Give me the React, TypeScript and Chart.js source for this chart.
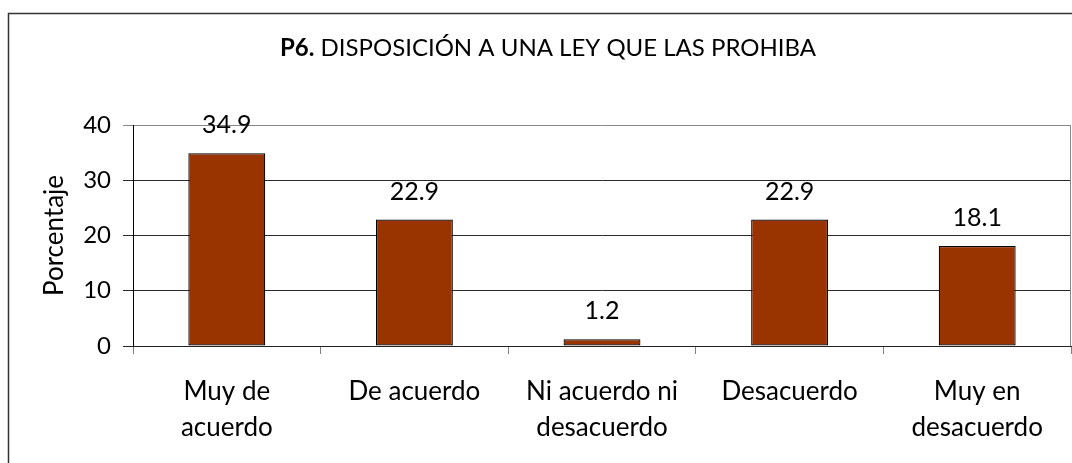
import React, { useEffect, useRef } from "react";
import { Chart, registerables } from "chart.js";

Chart.register(...registerables);

const categories: string[][] = [
  ["Muy de", "acuerdo"],
  ["De acuerdo"],
  ["Ni acuerdo ni", "desacuerdo"],
  ["Desacuerdo"],
  ["Muy en", "desacuerdo"],
];
const values: number[] = [34.9, 22.9, 1.2, 22.9, 18.1];
const yMin = 0;
const yMax = 40;
const yStep = 10;
const titleBold = "P6.";
const titleRest = " DISPOSICIÓN A UNA LEY QUE LAS PROHIBA";
const yTitle = "Porcentaje";

const FONT = "Lato, 'Open Sans', 'DejaVu Sans', sans-serif";

const decorPlugin = {
  id: "decor",
  beforeDraw(chart: any) {
    const { ctx, width, height } = chart;
    ctx.save();
    ctx.fillStyle = "#ffffff";
    ctx.fillRect(0, 0, width, height);
    ctx.strokeStyle = "#333333";
    ctx.lineWidth = 1.5;
    ctx.beginPath();
    ctx.moveTo(8.5, height + 5);
    ctx.lineTo(8.5, 13.5);
    ctx.lineTo(width + 5, 13.5);
    ctx.stroke();
    ctx.restore();
  },
  afterDatasetsDraw(chart: any) {
    const { ctx, chartArea } = chart;
    ctx.save();
    // plot area right border
    ctx.strokeStyle = "#888888";
    ctx.lineWidth = 1;
    ctx.beginPath();
    ctx.moveTo(chartArea.right - 0.5, chartArea.top);
    ctx.lineTo(chartArea.right - 0.5, chartArea.bottom);
    ctx.stroke();
    // data labels
    const meta = chart.getDatasetMeta(0);
    ctx.fillStyle = "#000000";
    ctx.font = `25px ${FONT}`;
    ctx.textAlign = "center";
    ctx.textBaseline = "middle";
    meta.data.forEach((bar: any, i: number) => {
      ctx.fillText(values[i].toFixed(1), bar.x, bar.y - 28);
    });
    // title
    ctx.textBaseline = "middle";
    ctx.textAlign = "left";
    const boldFont = `bold 24px ${FONT}`;
    const normFont = `24px ${FONT}`;
    ctx.font = boldFont;
    const wb = ctx.measureText(titleBold).width;
    ctx.font = normFont;
    const wn = ctx.measureText(titleRest).width;
    const cx = 548;
    const x0 = cx - (wb + wn) / 2;
    ctx.font = boldFont;
    ctx.fillText(titleBold, x0, 48);
    ctx.font = normFont;
    ctx.fillText(titleRest, x0 + wb, 48);
    ctx.restore();
  },
};

export default function App() {
  const canvasRef = useRef<HTMLCanvasElement | null>(null);

  useEffect(() => {
    if (!canvasRef.current) return;
    const chart = new Chart(canvasRef.current, {
      type: "bar",
      data: {
        labels: categories,
        datasets: [
          {
            data: values,
            backgroundColor: "#993300",
            borderColor: "#000000",
            borderWidth: 1.2,
            borderSkipped: false,
            barPercentage: 0.41,
            categoryPercentage: 1,
          },
        ],
      },
      options: {
        animation: false,
        responsive: true,
        maintainAspectRatio: false,
        layout: { padding: { top: 125, right: 1, left: 0, bottom: 0 } },
        plugins: {
          legend: { display: false },
          title: { display: false },
          tooltip: { enabled: false },
        },
        scales: {
          x: {
            offset: true,
            grid: {
              offset: true,
              drawOnChartArea: false,
              drawTicks: true,
              tickLength: 8,
              color: "#808080",
            },
            border: { display: true, color: "#222222", width: 1 },
            ticks: {
              color: "#000000",
              font: { family: FONT, size: 26, lineHeight: 36 / 26 },
              padding: 20,
              maxRotation: 0,
              autoSkip: false,
            },
            afterFit(scale: any) {
              scale.height = 117;
            },
          },
          y: {
            min: yMin,
            max: yMax,
            ticks: {
              stepSize: yStep,
              color: "#000000",
              font: { family: FONT, size: 24 },
              padding: 12,
            },
            grid: {
              drawTicks: true,
              tickLength: 10,
              color: (c: any) => (c.tick && c.tick.value === yMax ? "#888888" : "#2a2a2a"),
            },
            border: { display: true, color: "#000000", width: 1 },
            title: {
              display: true,
              text: yTitle,
              color: "#000000",
              font: { family: FONT, size: 26 },
              padding: { top: 39, bottom: 0 },
            },
            afterFit(scale: any) {
              scale.width = 133;
            },
          },
        },
      },
      plugins: [decorPlugin],
    });
    return () => chart.destroy();
  }, []);

  return (
    <div style={{ position: "fixed", left: 0, top: 0, width: 1072, height: 463, background: "#fff" }}>
      <canvas ref={canvasRef} />
    </div>
  );
}
